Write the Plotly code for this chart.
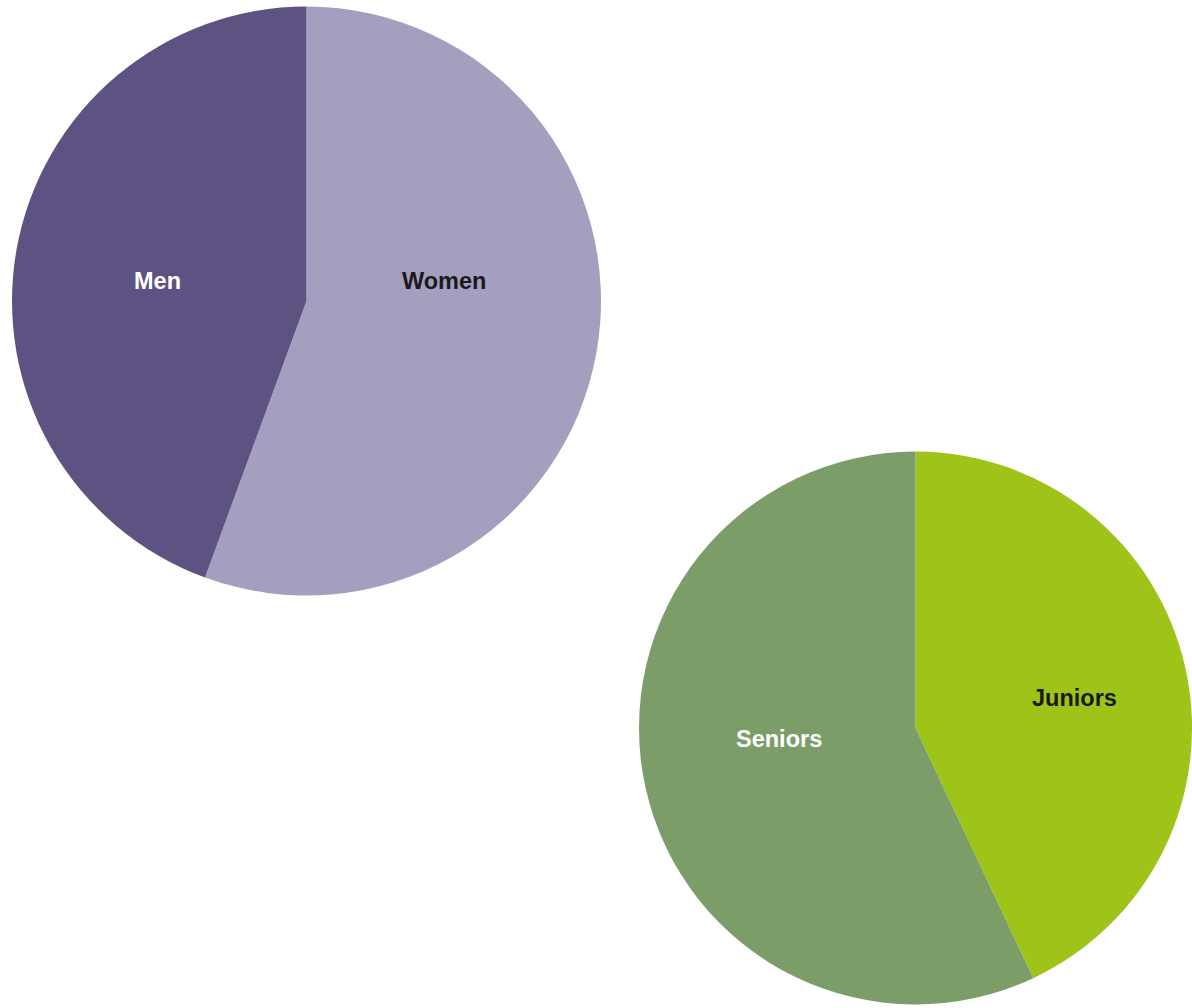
import plotly.graph_objects as go

# Gender split
gender_labels = ["Women", "Men"]
gender_values = [55.6, 44.4]
gender_colors = ["#A49FBF", "#5E5283"]
gender_text_colors = ["#1A1A1A", "#FFFFFF"]

# Age group split
age_labels = ["Juniors", "Seniors"]
age_values = [43.0, 57.0]
age_colors = ["#9EC41A", "#7B9E68"]
age_text_colors = ["#1A1A1A", "#FFFFFF"]

W, H = 1192, 1008
FONT = "Liberation Sans, Arial, sans-serif"

fig = go.Figure()

fig.add_trace(go.Pie(
    labels=gender_labels, values=gender_values,
    marker=dict(colors=gender_colors, line=dict(width=0)),
    sort=False, direction="clockwise", rotation=0,
    textinfo="none", hoverinfo="skip", showlegend=False,
    domain=dict(x=[12 / W, 601 / W], y=[1 - 597 / H, 1 - 5 / H]),
))

fig.add_trace(go.Pie(
    labels=age_labels, values=age_values,
    marker=dict(colors=age_colors, line=dict(width=0)),
    sort=False, direction="clockwise", rotation=0,
    textinfo="none", hoverinfo="skip", showlegend=False,
    domain=dict(x=[639 / W, 1.0], y=[0.0, 1 - 448 / H]),
))

# Slice labels
label_spots = {
    "Men": (157, 281),
    "Women": (444, 281),
    "Seniors": (779, 739),
    "Juniors": (1074, 698),
}
label_colors = dict(zip(gender_labels + age_labels, gender_text_colors + age_text_colors))
for name, (px, py) in label_spots.items():
    fig.add_annotation(
        x=px / W, y=1 - py / H, xref="paper", yref="paper",
        text=f"<b>{name}</b>", showarrow=False,
        font=dict(family=FONT, size=23.5, color=label_colors[name]),
        xanchor="center", yanchor="middle",
    )

fig.update_layout(
    width=W, height=H,
    margin=dict(l=0, r=0, t=0, b=0),
    paper_bgcolor="#FFFFFF", plot_bgcolor="#FFFFFF",
)

fig.write_html("out.html")
